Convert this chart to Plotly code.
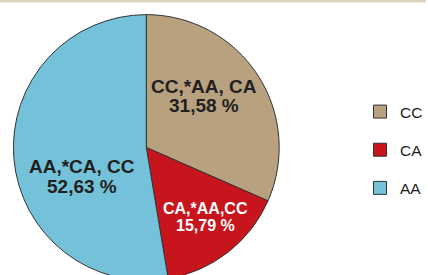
import plotly.graph_objects as go

categories = ["CC", "CA", "AA"]
percents = [31.58, 15.79, 52.63]
slice_labels = ["CC,*AA, CA", "CA,*AA,CC", "AA,*CA, CC"]
percent_text = ["31,58 %", "15,79 %", "52,63 %"]
colors = ["#b7a17f", "#c8141c", "#74c2da"]
text_colors = ["#231f20", "#ffffff", "#231f20"]

W, H = 428, 292
cx, cy, r = 147, 147.5, 133.5

# label placement (pixels from top-left): x centre, y of line 1, y of line 2, font size
label_layout = [(204.5, 87, 105, 19), (206.5, 208, 225, 16), (82.5, 166, 186, 19)]

fig = go.Figure()
fig.add_trace(go.Pie(
    labels=categories,
    values=percents,
    textinfo="none",
    marker=dict(colors=colors, line=dict(color="#333333", width=1)),
    sort=False,
    direction="clockwise",
    rotation=0,
    showlegend=False,
    hoverinfo="label+percent",
    domain=dict(x=[(cx - r) / W, (cx + r) / W], y=[1 - (cy + r) / H, 1 - (cy - r) / H]),
))

for i, c in enumerate(categories):
    fig.add_trace(go.Scatter(
        x=[None], y=[None], mode="markers", name=c, legendgroup=c,
        marker=dict(symbol="square", size=13, color=colors[i], line=dict(color="#333333", width=1)),
    ))

annotations = []
for i in range(len(categories)):
    lx, y1, y2, fs = label_layout[i]
    for txt, yy in ((slice_labels[i], y1), (percent_text[i], y2)):
        annotations.append(dict(
            text=f"<b>{txt}</b>", x=lx / W, y=1 - yy / H, xref="paper", yref="paper",
            xanchor="center", yanchor="middle", showarrow=False,
            font=dict(family="Liberation Sans, Arial, sans-serif", size=fs, color=text_colors[i]),
        ))

fig.update_layout(
    width=W, height=H,
    margin=dict(l=0, r=0, t=0, b=0),
    paper_bgcolor="white", plot_bgcolor="white",
    xaxis=dict(visible=False), yaxis=dict(visible=False),
    legend=dict(
        x=362 / W, xanchor="left", y=1 - 95 / H, yanchor="top",
        font=dict(family="Liberation Sans, Arial, sans-serif", size=15.5, color="#231f20"),
        tracegroupgap=15, bgcolor="rgba(0,0,0,0)",
    ),
    annotations=annotations,
    shapes=[dict(type="rect", xref="paper", yref="paper", x0=0, x1=1, y0=1 - 2.5 / H, y1=1,
                 fillcolor="#ddd3bf", line=dict(width=0), layer="above")],
)

fig.write_html("out.html", config={"displayModeBar": False},
               post_script="document.body.style.margin='0';document.body.style.overflow='hidden';document.documentElement.style.overflow='hidden';")
